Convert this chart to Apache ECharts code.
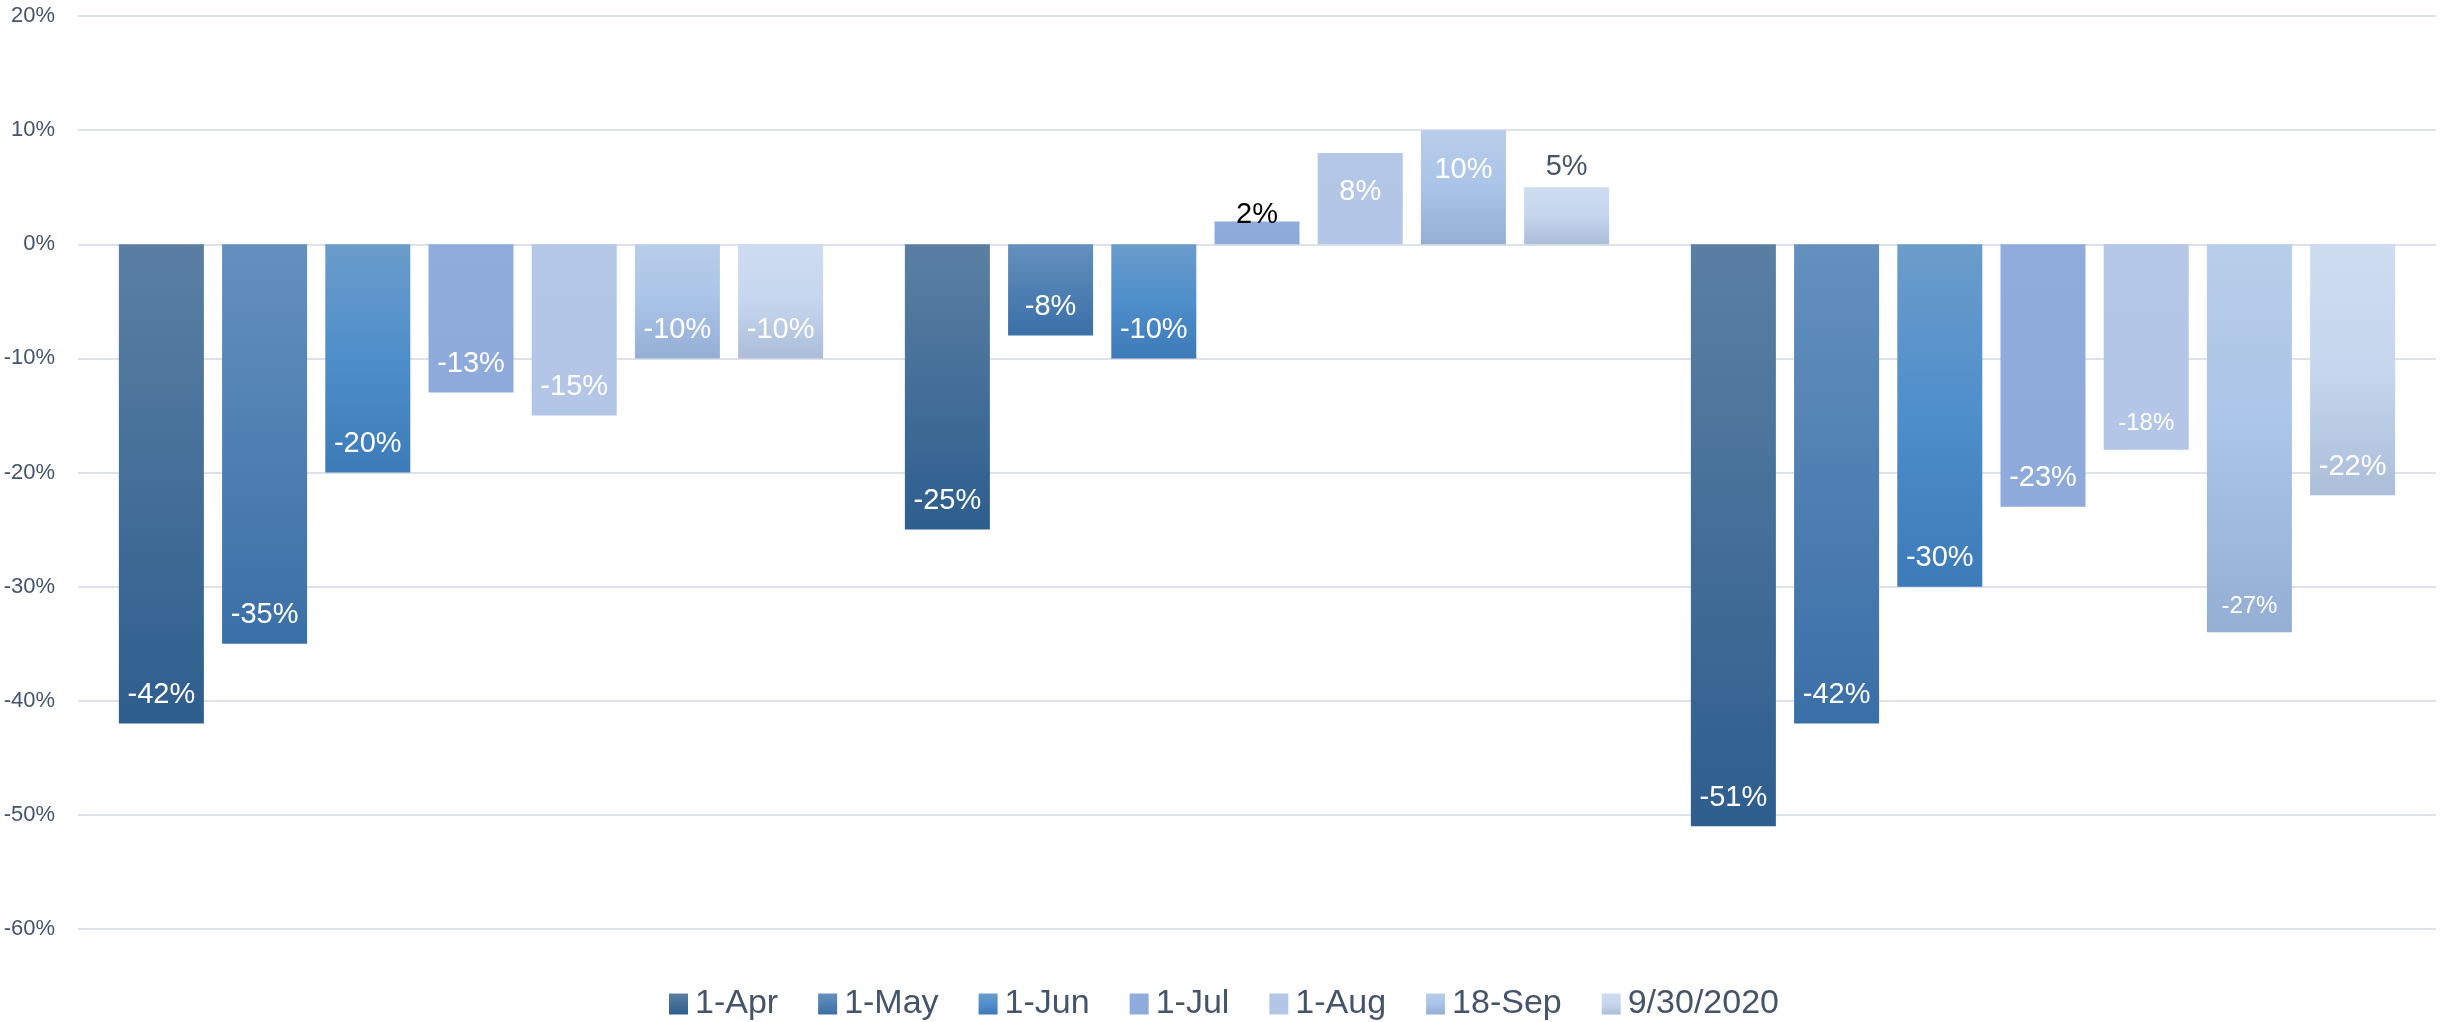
<!DOCTYPE html>
<html>
<head>
<meta charset="utf-8">
<script src="https://cdn.jsdelivr.net/npm/echarts@6/dist/echarts.min.js"></script>
<style>
  html, body { margin: 0; padding: 0; background: #ffffff; }
  #chart { width: 2455px; height: 1022px; }
</style>
</head>
<body>
<div id="chart"></div>
<script>
// ---------------- DATA ----------------
var categories = ['Group 1', 'Group 2', 'Group 3'];
var seriesNames = ['1-Apr', '1-May', '1-Jun', '1-Jul', '1-Aug', '18-Sep', '9/30/2020'];

var apr1   = [-42, -25, -51];
var may1   = [-35,  -8, -42];
var jun1   = [-20, -10, -30];
var jul1   = [-13,   2, -23];
var aug1   = [-15,   8, -18];
var sep18  = [-10,  10, -34];
var sep30  = [-10,   5, -22];

// data label texts as printed on the chart
var apr1Labels  = ['-42%', '-25%', '-51%'];
var may1Labels  = ['-35%', '-8%',  '-42%'];
var jun1Labels  = ['-20%', '-10%', '-30%'];
var jul1Labels  = ['-13%', '2%',   '-23%'];
var aug1Labels  = ['-15%', '8%',   '-18%'];
var sep18Labels = ['-10%', '10%',  '-27%'];
var sep30Labels = ['-10%', '5%',   '-22%'];

var yTicks = { min: -60, max: 20, interval: 10 };

// ---------------- STYLE ----------------
var allValues = [apr1, may1, jun1, jul1, aug1, sep18, sep30];
var allLabels = [apr1Labels, may1Labels, jun1Labels, jul1Labels, aug1Labels, sep18Labels, sep30Labels];

var FONT = "'Liberation Sans', Arial, sans-serif";
var TEXT = '#44546A';

var gradients = [
  [[0, '#5B7FA3'], [1, '#2E5E8E']],
  [[0, '#6490BE'], [1, '#3A6FA7']],
  [[0, '#6B9CCB'], [0.5, '#4E8ECB'], [1, '#3D7AB8']],
  [[0, '#8FACDC'], [1, '#8EAADB']],
  [[0, '#B4C7E7'], [1, '#B3C6E7']],
  [[0, '#B8CDE9'], [0.5, '#AAC4E8'], [1, '#94AED4']],
  [[0, '#CEDCF0'], [0.5, '#C6D6EE'], [1, '#ABBDD8']]
];

// labels that sit above their (short) bar, with their own colour
var outsideLabelColor = { '3-1': '#000000', '6-1': TEXT };
// labels drawn in a smaller size
var smallLabel = { '4-2': true, '5-2': true };

function grad(stops) {
  return new echarts.graphic.LinearGradient(0, 0, 0, 1,
    stops.map(function (s) { return { offset: s[0], color: s[1] }; }));
}

var series = allValues.map(function (vals, i) {
  return {
    name: seriesNames[i],
    type: 'bar',
    barGap: '21.4%',
    barCategoryGap: '10.4%',
    itemStyle: { color: grad(gradients[i]) },
    emphasis: { disabled: true },
    data: vals.map(function (v, j) {
      var key = i + '-' + j;
      var lab;
      if (outsideLabelColor[key]) {
        lab = { show: true, position: 'top', color: outsideLabelColor[key],
                distance: key === '3-1' ? -8 : 6 };
      } else {
        lab = { show: true, position: v < 0 ? 'insideBottom' : 'insideTop',
                color: '#ffffff', distance: v < 0 ? 14 : 25 };
      }
      lab.fontFamily = FONT;
      lab.fontSize = smallLabel[key] ? 24 : 29;
      lab.formatter = allLabels[i][j];
      return { value: v, label: lab };
    })
  };
});

var chart = echarts.init(document.getElementById('chart'), null, { renderer: 'canvas' });
chart.setOption({
  animation: false,
  backgroundColor: '#ffffff',
  textStyle: { fontFamily: FONT },
  grid: { left: 78, right: 19, top: 16, bottom: 93, containLabel: false },
  legend: {
    data: seriesNames,
    top: 982,
    left: 664,
    itemWidth: 19,
    itemHeight: 21,
    itemGap: 40,
    textStyle: { color: TEXT, fontSize: 34, fontFamily: FONT, padding: [0, 0, 0, 2] },
    icon: 'rect'
  },
  xAxis: {
    type: 'category',
    data: categories,
    axisLine: { show: false },
    axisTick: { show: false },
    axisLabel: { show: false }
  },
  yAxis: {
    type: 'value',
    min: yTicks.min,
    max: yTicks.max,
    interval: yTicks.interval,
    axisLine: { show: false },
    axisTick: { show: false },
    axisLabel: { formatter: '{value}%', color: TEXT, fontSize: 22, fontFamily: FONT, margin: 23 },
    splitLine: { lineStyle: { color: '#DDE2EA', width: 2 } }
  },
  series: series
});
</script>
</body>
</html>
